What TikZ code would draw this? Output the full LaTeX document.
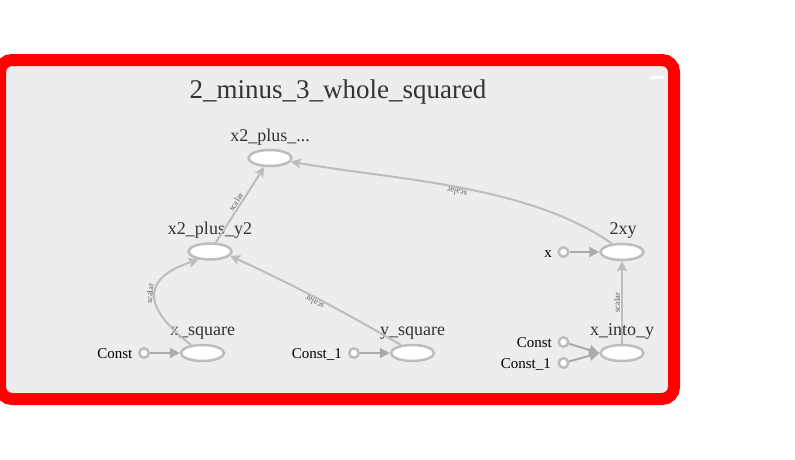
\documentclass[tikz,border=0pt]{standalone}
\usepackage{fontspec}
\setmainfont{Liberation Serif}
\usetikzlibrary{arrows.meta,shapes.geometric}
\definecolor{bgc}{HTML}{EDEDED}
\definecolor{edgec}{HTML}{BDBDBD}
\definecolor{constedge}{HTML}{ABABAB}
\definecolor{txtc}{HTML}{333333}
\definecolor{framered}{HTML}{FF0000}
\tikzset{
  opnode/.style={ellipse, draw=edgec, line width=2.5pt, fill=white, minimum width=43pt, minimum height=16pt, inner sep=0pt},
  constnode/.style={circle, draw=edgec, line width=2.5pt, fill=white, minimum size=9.5pt, inner sep=0pt},
  oplabel/.style={anchor=base, text=txtc, font=\fontsize{18}{18}\selectfont, inner sep=0pt},
  constlabel/.style={anchor=base east, text=black, font=\fontsize{15}{15}\selectfont, inner sep=0pt},
  dataedge/.style={draw=edgec, line width=2pt, -{Stealth[length=10pt,width=10pt,inset=2pt]}},
  constedgestyle/.style={draw=constedge, line width=2pt, -{Triangle[length=10pt,width=10pt]}},
  edgelabel/.style={sloped, allow upside down, above, inner sep=1pt, text=txtc!80, font=\fontsize{8.5}{8.5}\selectfont}
}
\begin{document}
\begin{tikzpicture}[x=1pt,y=-1pt]
\useasboundingbox (0,0) rectangle (795,459);
\clip (0,0) rectangle (795,459);
\fill[white] (0,0) rectangle (795,459);
% frame
\draw[framered, line width=12pt, rounded corners=12pt, fill=bgc] (0,60) rectangle (674,399);
\fill[white] (650,76) rectangle (664,79);
% title
\node[anchor=base, text=txtc, font=\fontsize{27}{27}\selectfont, inner sep=0pt] (title) at (338,98) {2\_minus\_3\_whole\_squared};
% op nodes
\node[opnode] (x2plus) at (270,158) {};
\node[opnode] (xpy) at (210,251.5) {};
\node[opnode] (xsq) at (202.5,353) {};
\node[opnode] (ysq) at (412.5,353) {};
\node[opnode] (twoxy) at (622,252) {};
\node[opnode] (xinto) at (622,353) {};
% op labels
\node[oplabel] (lx2plus) at (270,141) {x2\_plus\_...};
\node[oplabel] (lxpy) at (210,234) {x2\_plus\_y2};
\node[oplabel] (lxsq) at (202.5,335.5) {x\_square};
\node[oplabel] (lysq) at (412.5,335.5) {y\_square};
\node[oplabel] (ltwoxy) at (623,234.5) {2xy};
\node[oplabel] (lxinto) at (622,335.5) {x\_into\_y};
% const nodes
\node[constnode] (c0) at (144,353) {};
\node[constnode] (c1) at (354,353) {};
\node[constnode] (cx) at (563.5,252) {};
\node[constnode] (c2) at (563.5,342) {};
\node[constnode] (c3) at (563.5,363) {};
\node[constlabel] (lc0) at (132.5,358) {Const};
\node[constlabel] (lc1) at (342,358) {Const\_1};
\node[constlabel] (lcx) at (552,257) {x};
\node[constlabel] (lc2) at (552,347) {Const};
\node[constlabel] (lc3) at (551,368) {Const\_1};
% const edges
\draw[constedgestyle] (c0) -- (xsq);
\draw[constedgestyle] (c1) -- (ysq);
\draw[constedgestyle] (cx) -- (twoxy);
\draw[constedgestyle] (c2) -- (xinto.west);
\draw[constedgestyle] (c3) -- (xinto.west);
% data edges
\draw[dataedge] (xsq.145) .. controls (140,305) and (143,278) .. node[edgelabel, pos=0.5] {scalar} (xpy.215);
\draw[dataedge] (ysq.145) to[out=150, in=-25] node[edgelabel, pos=0.5] {scalar} (xpy.-12);
\draw[dataedge] (xpy) -- node[edgelabel, pos=0.5] {scalar} (x2plus);
\draw[dataedge] (twoxy.140) to[out=145, in=-10, looseness=0.8] node[edgelabel, pos=0.5] {scalar} (x2plus.-10);
\draw[dataedge] (xinto) -- node[edgelabel, pos=0.5] {scalar} (twoxy);
\end{tikzpicture}
\end{document}
